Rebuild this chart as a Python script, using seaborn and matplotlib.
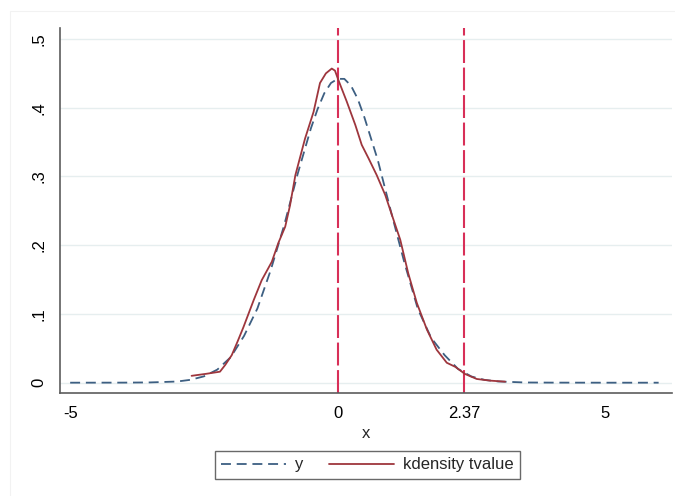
import numpy as np
import pandas as pd
import matplotlib
matplotlib.use("Agg")
import matplotlib.pyplot as plt
import matplotlib.patches as mpatches
from matplotlib.lines import Line2D
import seaborn as sns

# ---- data ----
y_x = [-5, -4, -3.5, -3, -2.75, -2.5, -2.25, -2, -1.75, -1.5, -1.25, -1, -0.75, -0.5,
       -0.375, -0.25, -0.125, 0, 0.125, 0.25, 0.375, 0.5, 0.75, 1, 1.25, 1.5, 1.75,
       2, 2.25, 2.5, 2.75, 3, 3.5, 4, 5, 6]
y_vals = [0.0, 0.0001, 0.0004, 0.0017, 0.0042, 0.0092, 0.019, 0.037, 0.068, 0.108,
          0.164, 0.229, 0.303, 0.370, 0.398, 0.421, 0.436, 0.442, 0.442, 0.432, 0.413,
          0.386, 0.324, 0.248, 0.174, 0.107, 0.065, 0.040, 0.020, 0.009, 0.004, 0.0018,
          0.0003, 0.0001, 0.0, 0.0]

kd_x = [-2.73, -2.45, -2.20, -2.10, -1.98, -1.87, -1.76, -1.57, -1.42, -1.23, -1.11,
        -0.98, -0.89, -0.79, -0.61, -0.45, -0.33, -0.22, -0.11, -0.05, 0.015, 0.17,
        0.33, 0.45, 0.58, 0.73, 0.89, 1.04, 1.17, 1.32, 1.48, 1.67, 1.85, 2.04, 2.20,
        2.38, 2.60, 2.85, 3.13]
kd_vals = [0.010, 0.013, 0.016, 0.026, 0.040, 0.060, 0.081, 0.120, 0.149, 0.176, 0.203,
           0.227, 0.258, 0.302, 0.355, 0.394, 0.436, 0.450, 0.457, 0.454, 0.440, 0.409,
           0.375, 0.346, 0.326, 0.302, 0.273, 0.238, 0.208, 0.159, 0.116, 0.077, 0.048,
           0.029, 0.023, 0.0127, 0.0054, 0.003, 0.0015]

vlines = [0, 2.37]
x_ticks = [-5, 0, 2.37, 5]
x_ticklabels = ["-5", "0", "2.37", "5"]
y_ticks = [0, 0.1, 0.2, 0.3, 0.4, 0.5]
y_ticklabels = ["0", ".1", ".2", ".3", ".4", ".5"]
legend_labels = ["y", "kdensity tvalue"]
x_label = "x"

# ---- style ----
sns.set_style("white")
plt.rcParams["font.family"] = ["Liberation Sans", "DejaVu Sans"]

c_y = "#3d5f82"
c_kd = "#9e363d"
c_v = "#d82f58"
c_axis = "#5c5c5c"
c_grid = "#e6eeef"

fig = plt.figure(figsize=(6.75, 4.96), dpi=100)
fig.patches.append(mpatches.Rectangle((10 / 675, -0.1), 1.0, 1.1 - 11 / 496,
                                      transform=fig.transFigure, fill=False,
                                      edgecolor="#f2f2f2", linewidth=0.8, zorder=0))
ax = fig.add_axes([60 / 675, 1 - 393 / 496, 612 / 675, 365 / 496])

df_y = pd.DataFrame({"x": y_x, "dens": y_vals})
df_kd = pd.DataFrame({"x": kd_x, "dens": kd_vals})

for yt in y_ticks:
    ax.axhline(yt, color=c_grid, lw=1.0, zorder=0)

sns.lineplot(data=df_y, x="x", y="dens", ax=ax, color=c_y, lw=1.3,
             estimator=None, sort=False, zorder=3)
ax.lines[-1].set_dashes((5.5, 3.2))
sns.lineplot(data=df_kd, x="x", y="dens", ax=ax, color=c_kd, lw=1.3,
             estimator=None, sort=False, zorder=4)

for v in vlines:
    ln = ax.axvline(v, color=c_v, lw=1.5, zorder=2)
    ln.set_dashes((11, 2.2))

ax.set_xlim(-5.19, 6.25)
ax.set_ylim(-0.015, 0.516)
ax.set_xticks(x_ticks)
ax.set_xticklabels(x_ticklabels)
ax.set_yticks(y_ticks)
ax.set_yticklabels(y_ticklabels, rotation=90, va="center")
ax.set_xlabel(x_label, fontsize=12, labelpad=4)
ax.set_ylabel("")

for s in ["top", "right"]:
    ax.spines[s].set_visible(False)
for s in ["left", "bottom"]:
    ax.spines[s].set_color(c_axis)
    ax.spines[s].set_linewidth(1.2)
ax.tick_params(axis="both", direction="out", length=5, width=1.1, color=c_axis,
               labelsize=12, labelcolor="black", pad=4)
ax.tick_params(axis="y", pad=5)

handles = [Line2D([0], [0], color=c_y, lw=1.3, dashes=(5.5, 3.2)),
           Line2D([0], [0], color=c_kd, lw=1.3)]
leg = fig.legend(handles, legend_labels, loc="center",
                 bbox_to_anchor=(367.5 / 675, 1 - 465 / 496), ncol=2,
                 frameon=True, fancybox=False, edgecolor="#444444",
                 handlelength=3.9, columnspacing=1.5, handletextpad=0.55,
                 fontsize=12, borderpad=0.4, borderaxespad=0)
leg.get_frame().set_linewidth(1.0)

fig.savefig("out.png", dpi=100)
